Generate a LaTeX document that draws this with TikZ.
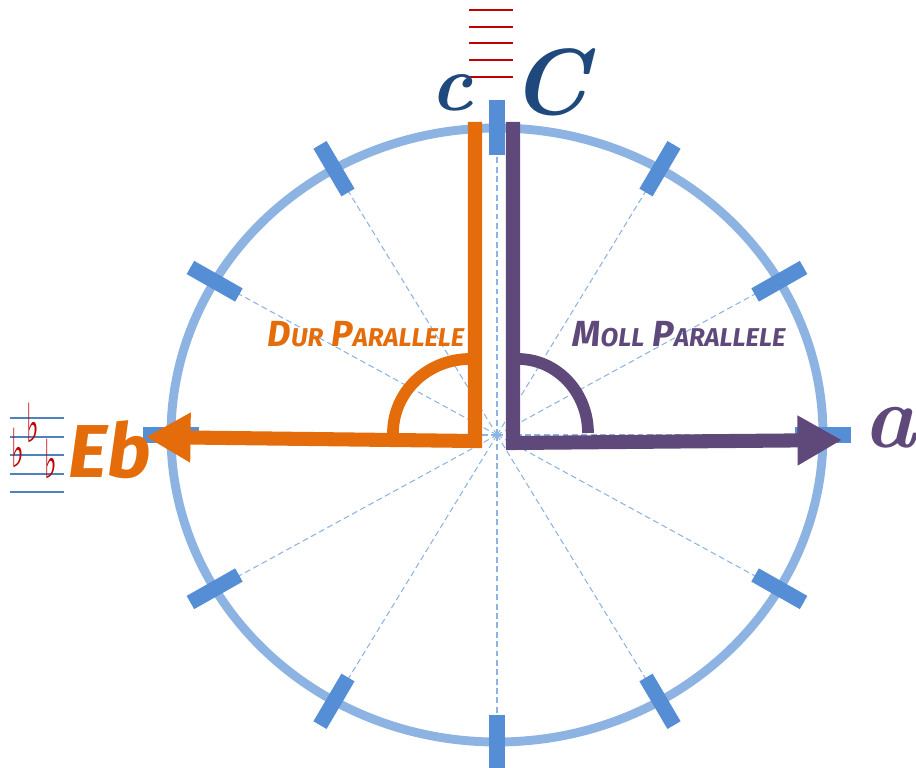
\documentclass[tikz,border=0pt]{standalone}
\usepackage{fontspec}
\newfontfamily\brushfont{Fira Sans}
\newfontfamily\symfont{DejaVu Sans}
\usetikzlibrary{arrows.meta}
\definecolor{ringblue}{HTML}{8DB3E2}
\definecolor{tickblue}{HTML}{558ED5}
\definecolor{durorange}{HTML}{E46C0A}
\definecolor{mollpurple}{HTML}{5F497A}
\definecolor{keyblue}{HTML}{1F497D}
\definecolor{notered}{HTML}{C00000}
\definecolor{staffblue}{HTML}{4F81BD}
\newcommand{\kapit}[2]{#1{\fontsize{22}{22}\selectfont #2}}
\begin{document}
\begin{tikzpicture}[x=0.03cm,y=-0.03cm,
ring/.style={ringblue, line width=7.6pt},
tickmark/.style={tickblue, line width=13pt},
spoke/.style={ringblue, line width=0.9pt, dash pattern=on 5pt off 3pt},
durline/.style={durorange, line width=12pt, line join=miter,
  -{Triangle[length=38pt,width=40pt]}},
mollline/.style={mollpurple, line width=12pt, line join=miter,
  -{Triangle[length=38pt,width=40pt]}},
durarc/.style={durorange, line width=10pt},
mollarc/.style={mollpurple, line width=10pt},
staffred/.style={notered, line width=1.7pt},
staffline/.style={staffblue, line width=1.7pt},
flatsign/.style={notered, inner sep=0pt, xscale=0.5, transform shape,
  font=\fontsize{46}{46}\selectfont\symfont\bfseries},
keyletter/.style={inner sep=0pt, font=\fontsize{68}{68}\selectfont\bfseries\itshape},
parlabel/.style={inner sep=0pt, font=\fontsize{31}{31}\selectfont\brushfont\bfseries\itshape}]
\useasboundingbox (0,0) rectangle (916,768);

% Draw the circle of keys with spokes and tick marks
\begin{scope}[shift={(497,435)}]
\foreach \a in {0,30,...,330} {
\draw[spoke] (0,0) -- (\a:354 and 335);
}
\draw[ring] (0,0) ellipse[x radius=326, y radius=307];
\foreach \a in {0,30,...,330} {
\draw[tickmark] (\a:298 and 280) -- (\a:354 and 335);
}
\end{scope}

% Draw the two parallels
\draw[durline] (475,122) -- (475,441) -- (146,437);
\draw[mollline] (513,122) -- (513,443) -- (842,440);

% Draw the right angles
\draw[durarc] (393,433) arc[start angle=180, end angle=270, x radius=77, y radius=74];
\draw[mollarc] (518,359) arc[start angle=270, end angle=360, x radius=70, y radius=74];

% Add labels for the parallels
\node[parlabel, durorange] (dur) at (366,334) {\kapit{D}{UR} \kapit{P}{ARALLELE}};
\node[parlabel, mollpurple] (moll) at (679,334) {\kapit{M}{OLL} \kapit{P}{ARALLELE}};

% Staff above C
\foreach \y in {10,27,43,60,77} {
\draw[staffred] (469,\y) -- (513,\y);
}
\node[keyletter, keyblue] (cmin) at (452,93) {c};
\node[keyletter, keyblue, font=\fontsize{80}{80}\selectfont\bfseries\itshape] (cmaj) at (549,82) {C};

% Key signature of Eb
\foreach \y in {418,437,455,474,492} {
\draw[staffline] (10,\y) -- (64,\y);
}
\node[flatsign] (flatone) at (18,448) {♭};
\node[flatsign] (flattwo) at (33,423) {♭};
\node[flatsign] (flatthree) at (51,459) {♭};
\node[keyletter, durorange, font=\fontsize{64}{64}\selectfont\brushfont\bfseries\itshape] (ebmaj) at (110,450) {Eb};
\node[keyletter, mollpurple, font=\fontsize{76}{76}\selectfont\bfseries\itshape] (amin) at (890,428) {a};
\end{tikzpicture}
\end{document}
